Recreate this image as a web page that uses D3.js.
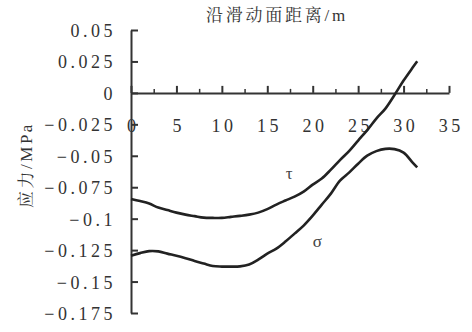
<!DOCTYPE html>
<html><head><meta charset="utf-8">
<script src="https://cdn.jsdelivr.net/npm/d3@7"></script>
<style>
html,body{margin:0;padding:0;background:#fff;}
svg{display:block;}
</style></head>
<body>
<script>
const distance = [0,1,2,3,4,5,6,7,8,9,10,11,12,13,14,15,16,17,18,19,20,21,22,23,24,25,26,27,28,29,30,31,31.5];
const tau = [-0.0843,-0.0860,-0.0880,-0.0912,-0.0932,-0.0952,-0.0968,-0.0980,-0.0992,-0.0994,-0.0994,-0.0986,-0.0978,-0.0968,-0.0952,-0.0924,-0.0888,-0.0856,-0.0825,-0.0785,-0.0729,-0.0681,-0.0610,-0.0534,-0.0463,-0.0379,-0.0296,-0.0204,-0.0125,-0.0017,0.0098,0.0201,0.0251];
const sigma = [-0.1294,-0.1274,-0.1258,-0.1260,-0.1278,-0.1294,-0.1314,-0.1337,-0.1357,-0.1377,-0.1381,-0.1381,-0.1379,-0.1365,-0.1326,-0.1278,-0.1238,-0.1182,-0.1119,-0.1055,-0.0976,-0.0888,-0.0801,-0.0698,-0.0634,-0.0563,-0.0499,-0.0463,-0.0445,-0.0447,-0.0475,-0.0554,-0.0592];
const xTicks = [0,5,10,15,20,25,30,35];
const xMinorTicks = [2.5,7.5,12.5,17.5,22.5,27.5,32.5];
const yTicks = [0.05,0.025,0,-0.025,-0.05,-0.075,-0.1,-0.125,-0.15,-0.175];
const yTickLabels = ["0.05","0.025","0","\u22120.025","\u22120.05","\u22120.075","\u22120.1","\u22120.125","\u22120.15","\u22120.175"];
const title = "沿滑动面距离/m";
const yTitle = "应力/MPa";
const seriesLabels = [{name:"τ", d:17.4, v:-0.064},{name:"σ", d:20.5, v:-0.1174}];

const FONT = "'Liberation Serif','Noto Serif CJK SC','Noto Sans CJK SC'";
const W=472,H=332;
const svg=d3.select("body").append("svg").attr("width",W).attr("height",H);
svg.append("rect").attr("width",W).attr("height",H).attr("fill","#fff");

const x=d3.scaleLinear().domain([0,35]).range([131,449]);
const y=d3.scaleLinear().domain([-0.175,0.05]).range([313,30]);

// Y axis
const yAxis=d3.axisLeft(y).tickValues(yTicks)
  .tickFormat((d,i)=>yTickLabels[i]).tickSizeInner(-7).tickSizeOuter(0).tickPadding(15);
const gy=svg.append("g").attr("transform",`translate(${x(0)},0)`).call(yAxis);
gy.attr("font-family",null).attr("font-size",null);
gy.select(".domain").attr("stroke","#333").attr("stroke-width",2);
gy.selectAll(".tick line").attr("stroke","#333").attr("stroke-width",2);
gy.selectAll(".tick text").style("font-family",FONT).style("font-size","18px").attr("fill","#333").style("letter-spacing","3.5px").attr("dy","0.36em");

// X axis (at y=0)
const xAxis=d3.axisBottom(x).tickValues(xTicks).tickFormat(d3.format("d"))
  .tickSizeInner(-7).tickSizeOuter(0).tickPadding(26);
const gx=svg.append("g").attr("transform",`translate(0,${y(0)})`).call(xAxis);
gx.attr("font-family",null).attr("font-size",null);
gx.select(".domain").attr("stroke","#333").attr("stroke-width",2);
gx.selectAll(".tick line").attr("stroke","#333").attr("stroke-width",2);
gx.selectAll(".tick text").style("font-family",FONT).style("font-size","18px").attr("fill","#333").style("letter-spacing","3.5px").attr("dx","1.75px");

const xMinor=d3.axisBottom(x).tickValues(xMinorTicks).tickFormat("").tickSizeInner(-4).tickSizeOuter(0);
const gxm=svg.append("g").attr("transform",`translate(0,${y(0)})`).call(xMinor);
gxm.select(".domain").remove();
gxm.selectAll(".tick line").attr("stroke","#333").attr("stroke-width",1.5);

// Lines
const line=(vals)=>d3.line().x((d,i)=>x(distance[i])).y(d=>y(d)).curve(d3.curveCatmullRom.alpha(0.5))(vals);
svg.append("path").attr("d",line(tau)).attr("fill","none").attr("stroke","#222").attr("stroke-width",2.6);
svg.append("path").attr("d",line(sigma)).attr("fill","none").attr("stroke","#222").attr("stroke-width",2.6);

// Series labels
svg.selectAll("text.slab").data(seriesLabels).enter().append("text").attr("class","slab")
  .attr("x",d=>x(d.d)).attr("y",d=>y(d.v)).attr("text-anchor","middle").attr("dy","0.35em")
  .style("font-family",FONT).style("font-size","17px").attr("fill","#444").text(d=>d.name);

// Titles
svg.append("text").attr("x",277).attr("y",21).attr("text-anchor","middle")
  .style("font-family",FONT).style("font-size","17px").style("letter-spacing","2.75px").attr("fill","#333").text(title);
svg.append("text").attr("transform","translate(32,165) rotate(-90)").attr("text-anchor","middle")
  .style("font-family",FONT).style("font-size","17px").style("letter-spacing","2.5px").attr("fill","#333").text(yTitle);
</script>
</body></html>
